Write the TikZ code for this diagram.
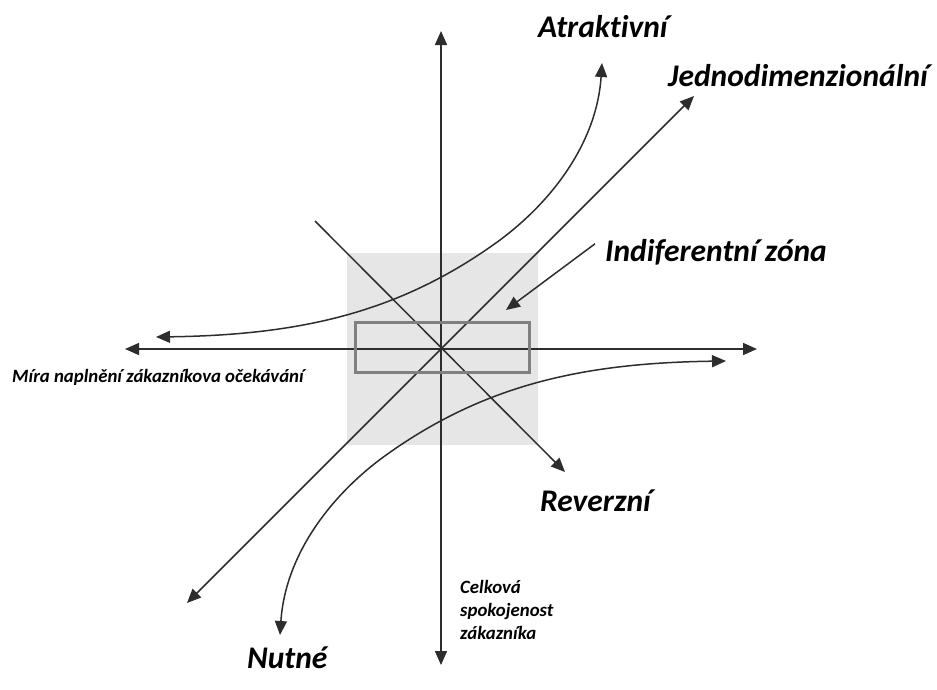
\documentclass[tikz,border=0pt]{standalone}
\usepackage{fontspec}
\setmainfont{Carlito}[Ligatures=NoCommon]
\usetikzlibrary{arrows.meta}
\definecolor{zone}{RGB}{230,230,230}
\definecolor{frameline}{RGB}{128,128,128}
\definecolor{ink}{RGB}{45,45,45}
\tikzset{
  curve/.style={draw=ink, line width=1.5pt},
  tip/.style={-{Triangle[length=14pt,width=12pt]}},
  tips/.style={{Triangle[length=14pt,width=12pt]}-{Triangle[length=14pt,width=12pt]}},
  biglabel/.style={font=\fontsize{31.5}{34}\selectfont\bfseries\itshape, inner sep=0pt, anchor=base west},
  smalllabel/.style={font=\fontsize{18.8}{23}\selectfont\bfseries\itshape, inner sep=0pt, anchor=base west, align=left},
}
\begin{document}
\begin{tikzpicture}[x=1pt,y=-1pt]
  \useasboundingbox (0,0) rectangle (937,689);

  % indifference zone background
  \fill[zone] (347,253) rectangle (538,445);

  % axes
  \coordinate (xl) at (125,349);
  \coordinate (xr) at (757,349);
  \coordinate (yt) at (441,31);
  \coordinate (yb) at (441,665);
  \draw[curve, tips] (xl) -- (xr);
  \draw[curve, tips] (yb) -- (yt);

  % one-dimensional quality line
  \coordinate (ja) at (187,603);
  \coordinate (jb) at (694,96);
  \draw[curve, tips] (ja) -- (jb);

  % reverse quality line
  \coordinate (ra) at (315,221);
  \coordinate (rb) at (565,472);
  \draw[curve, tip] (ra) -- (rb);

  % attractive quality curve
  \coordinate (aa) at (156,337);
  \coordinate (am) at (500,240);
  \coordinate (ab) at (602,63);
  \draw[curve, tips] (aa) .. controls (300,335) and (400,313) .. (am)
                          .. controls (555,199) and (597,140) .. (ab);

  % must-be quality curve
  \coordinate (na) at (726,361);
  \coordinate (nm) at (382,458);
  \coordinate (nb) at (280,635);
  \draw[curve, tips] (na) .. controls (582,363) and (482,385) .. (nm)
                          .. controls (327,499) and (285,558) .. (nb);

  % indifference zone frame
  \draw[frameline, line width=3pt] (355,322) rectangle (529,372);

  % labels
  \node[biglabel] (latr) at (538,37) {Atraktivní};
  \node[biglabel] (ljed) at (668,86) {Jednodimenzionální};
  \node[biglabel] (lind) at (605,261) {Indiferentní zóna};
  \node[biglabel] (lrev) at (540,511) {Reverzní};
  \node[biglabel] (lnut) at (247,668) {Nutné};
  \node[smalllabel] (lx) at (12,382) {Míra naplnění zákazníkova očekávání};
  \node[smalllabel] (ly) at (460,639) {Celková\\spokojenost\\zákazníka};

  % pointer to the indifference zone
  \coordinate (pz) at (506,310);
  \draw[curve, tip] (lind.west) ++(-10,-8) -- (pz);
\end{tikzpicture}
\end{document}
